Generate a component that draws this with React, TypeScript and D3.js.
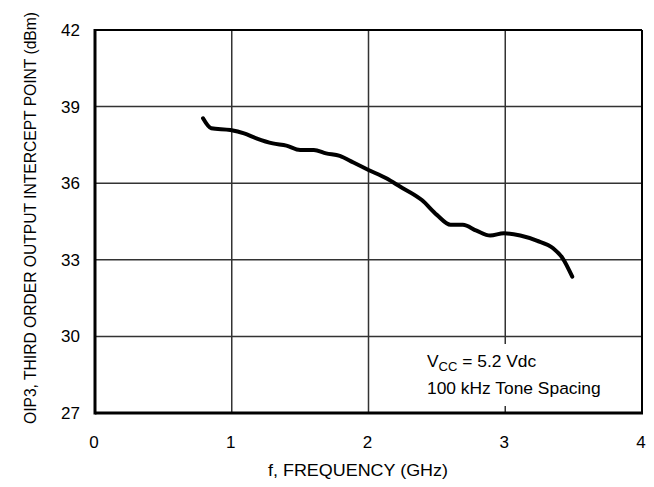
import React, { useEffect, useRef } from 'react';
import * as d3 from 'd3';

const freq = [0.79, 0.85, 0.99, 1.09, 1.18, 1.3, 1.4, 1.5, 1.6, 1.69, 1.79, 1.89, 2.0, 2.13, 2.23, 2.39, 2.5, 2.6, 2.69, 2.79, 2.89, 2.99, 3.11, 3.23, 3.35, 3.42, 3.49];
const oip3 = [38.54, 38.15, 38.08, 37.95, 37.76, 37.56, 37.47, 37.3, 37.3, 37.17, 37.07, 36.81, 36.52, 36.19, 35.87, 35.34, 34.76, 34.37, 34.37, 34.14, 33.95, 34.04, 33.95, 33.75, 33.45, 33.06, 32.34];
const xTicks = [0, 1, 2, 3, 4];
const yTicks = [27, 30, 33, 36, 39, 42];

const FONT = "'Liberation Sans', Arial, Helvetica, sans-serif";

const App: React.FC = () => {
  const ref = useRef<SVGSVGElement>(null);

  useEffect(() => {
    if (!ref.current) return;
    const svg = d3.select(ref.current);
    svg.selectAll('*').remove();

    const left = 95;
    const right = 642;
    const top = 30;
    const bottom = 413;

    const x = d3.scaleLinear().domain([0, 4]).range([left, right]);
    const y = d3.scaleLinear().domain([27, 42]).range([bottom, top]);

    // grid
    const grid = svg.append('g').attr('stroke', '#333').attr('stroke-width', 1.5);
    grid
      .selectAll('line.v')
      .data(xTicks.slice(1, -1))
      .enter()
      .append('line')
      .attr('x1', (d) => x(d))
      .attr('x2', (d) => x(d))
      .attr('y1', top)
      .attr('y2', bottom);
    grid
      .selectAll('line.h')
      .data(yTicks.slice(1, -1))
      .enter()
      .append('line')
      .attr('x1', left)
      .attr('x2', right)
      .attr('y1', (d) => y(d))
      .attr('y2', (d) => y(d));

    // legend box hides grid behind it
    svg.append('rect').attr('x', 414).attr('y', 344).attr('width', 226).attr('height', 62).attr('fill', '#fff');

    // frame
    svg.append('line').attr('x1', left).attr('x2', right).attr('y1', top).attr('y2', top).attr('stroke', '#000').attr('stroke-width', 1.8);
    svg.append('line').attr('x1', right).attr('x2', right).attr('y1', top).attr('y2', bottom).attr('stroke', '#000').attr('stroke-width', 2);
    svg.append('line').attr('x1', left).attr('x2', right + 1).attr('y1', bottom).attr('y2', bottom).attr('stroke', '#000').attr('stroke-width', 3);
    svg.append('line').attr('x1', left).attr('x2', left).attr('y1', top - 1).attr('y2', bottom + 1.5).attr('stroke', '#000').attr('stroke-width', 3);

    // curve
    const pts = freq.map((f, i) => [f, oip3[i]] as [number, number]);
    const line = d3
      .line<[number, number]>()
      .x((d) => x(d[0]))
      .y((d) => y(d[1]))
      .curve(d3.curveMonotoneX);
    svg
      .append('path')
      .datum(pts)
      .attr('d', line)
      .attr('fill', 'none')
      .attr('stroke', '#000')
      .attr('stroke-width', 4)
      .attr('stroke-linecap', 'round')
      .attr('stroke-linejoin', 'round');

    const text = svg.append('g').attr('font-family', FONT).attr('fill', '#000');

    text
      .selectAll('text.yt')
      .data(yTicks)
      .enter()
      .append('text')
      .attr('x', 80)
      .attr('y', (d) => y(d) + 6)
      .attr('text-anchor', 'end')
      .attr('font-size', 17)
      .text((d) => d);

    text
      .selectAll('text.xt')
      .data(xTicks)
      .enter()
      .append('text')
      .attr('x', (d) => x(d) - 1)
      .attr('y', 448)
      .attr('text-anchor', 'middle')
      .attr('font-size', 17)
      .text((d) => d);

    text
      .append('text')
      .attr('x', 358)
      .attr('y', 476)
      .attr('text-anchor', 'middle')
      .attr('font-size', 17)
      .attr('textLength', 180)
      .attr('lengthAdjust', 'spacingAndGlyphs')
      .text('f, FREQUENCY (GHz)');

    text
      .append('text')
      .attr('transform', 'translate(36, 218) rotate(-90)')
      .attr('text-anchor', 'middle')
      .attr('font-size', 16)
      .attr('textLength', 412)
      .attr('lengthAdjust', 'spacingAndGlyphs')
      .text('OIP3, THIRD ORDER OUTPUT INTERCEPT POINT (dBm)');

    const l1 = text.append('text').attr('x', 427).attr('y', 367).attr('font-size', 17.4);
    l1.append('tspan').text('V');
    l1.append('tspan').attr('font-size', 13).attr('dy', 4).text('CC');
    l1.append('tspan').attr('dy', -4).text(' = 5.2 Vdc');

    text.append('text').attr('x', 427).attr('y', 394).attr('font-size', 17.4).text('100 kHz Tone Spacing');
  }, []);

  return (
    <svg
      ref={ref}
      width={654}
      height={487}
      style={{ display: 'block', position: 'absolute', left: 0, top: 0, background: '#fff' }}
    />
  );
};

export default App;
